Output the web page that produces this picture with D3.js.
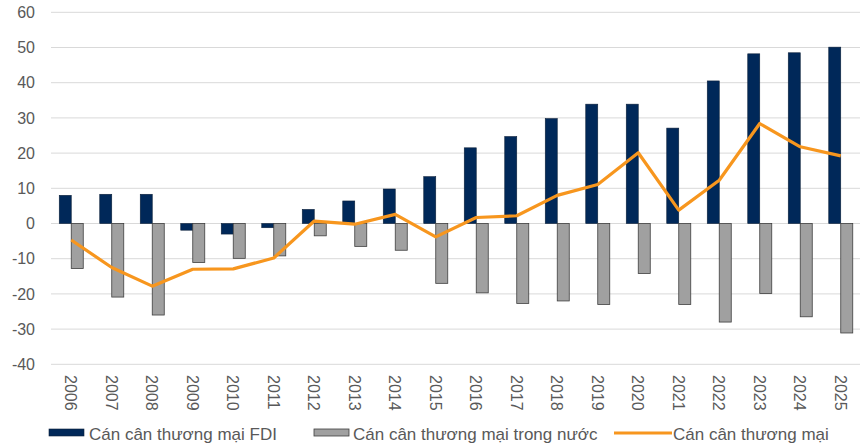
<!DOCTYPE html>
<html>
<head>
<meta charset="utf-8">
<script src="https://cdn.jsdelivr.net/npm/d3@7"></script>
<style>
  body { margin: 0; background: #fff; }
  svg text { font-family: "Liberation Sans", Arial, sans-serif; fill: #595959; }
</style>
</head>
<body>
<div id="chart"></div>
<script>
const years = ["2006","2007","2008","2009","2010","2011","2012","2013","2014","2015",
  "2016","2017","2018","2019","2020","2021","2022","2023","2024","2025"];
const fdi = [8.0, 8.3, 8.3, -1.9, -3.0, -1.2, 4.0, 6.4, 9.8, 13.3,
  21.5, 24.7, 29.8, 33.9, 33.9, 27.1, 40.5, 48.2, 48.5, 50.1];
const domestic = [-12.8, -20.9, -26.0, -11.1, -9.9, -9.2, -3.5, -6.5, -7.6, -17.0,
  -19.7, -22.7, -22.0, -23.0, -14.2, -23.0, -28.0, -19.9, -26.5, -31.1];
const total = [-4.7, -12.5, -17.8, -13.0, -12.9, -9.8, 0.7, -0.2, 2.6, -3.8,
  1.7, 2.2, 8.0, 11.1, 20.1, 3.8, 12.3, 28.4, 21.8, 19.2];
const yTicks = [-40, -30, -20, -10, 0, 10, 20, 30, 40, 50, 60];
const legendLabels = ["Cán cân thương mại FDI", "Cán cân thương mại trong nước", "Cán cân thương mại"];

const width = 867, height = 446;
const plotLeft = 51, plotRight = 861, plotTop = 12.3, plotBottom = 364.3;

const svg = d3.select("#chart").append("svg")
  .attr("width", width).attr("height", height);

const x = d3.scaleBand().domain(years).range([plotLeft, plotRight]);
const y = d3.scaleLinear().domain([-40, 60]).range([plotBottom, plotTop]);
const barW = 12;

// grid
svg.append("g").selectAll("line").data(yTicks).enter().append("line")
  .attr("x1", plotLeft).attr("x2", plotRight - 1)
  .attr("y1", d => y(d)).attr("y2", d => y(d))
  .attr("stroke", "#d9d9d9").attr("stroke-width", 1);

// y axis labels (plain hyphen for negatives, like the original)
const yAxis = d3.axisLeft(y).tickValues(yTicks).tickSize(0).tickPadding(16)
  .tickFormat(d => String(d));
const ya = svg.append("g").attr("transform", "translate(" + plotLeft + ",0)").call(yAxis);
ya.select(".domain").remove();
ya.selectAll("text").attr("font-size", 16).style("fill", "#595959")
  .attr("font-family", "Liberation Sans, Arial, sans-serif");

// bars
svg.append("g").selectAll("rect").data(fdi).enter().append("rect")
  .attr("x", (d, i) => x(years[i]) + x.bandwidth() / 2 - barW)
  .attr("y", d => Math.min(y(d), y(0)))
  .attr("width", barW)
  .attr("height", d => Math.abs(y(d) - y(0)))
  .attr("fill", "#002859").attr("stroke", "#0b1f3a").attr("stroke-width", 0.6);

svg.append("g").selectAll("rect").data(domestic).enter().append("rect")
  .attr("x", (d, i) => x(years[i]) + x.bandwidth() / 2)
  .attr("y", d => Math.min(y(d), y(0)))
  .attr("width", barW)
  .attr("height", d => Math.abs(y(d) - y(0)))
  .attr("fill", "#a0a0a0").attr("stroke", "#3f3f3f").attr("stroke-width", 0.8);

// line
const line = d3.line()
  .x((d, i) => x(years[i]) + x.bandwidth() / 2)
  .y(d => y(d));
svg.append("path").datum(total)
  .attr("d", line)
  .attr("fill", "none").attr("stroke", "#f7961e").attr("stroke-width", 3.2)
  .attr("stroke-linejoin", "round");

// x labels
svg.append("g").selectAll("text").data(years).enter().append("text")
  .attr("transform", d => "translate(" + (x(d) + x.bandwidth() / 2 - 0.5) + ",375) rotate(90)")
  .attr("font-size", 16)
  .attr("dominant-baseline", "central")
  .text(d => d);

// legend
const lg = svg.append("g");
lg.append("rect").attr("x", 49).attr("y", 429).attr("width", 35).attr("height", 7)
  .attr("fill", "#002859").attr("stroke", "#0b1f3a").attr("stroke-width", 0.6);
lg.append("text").attr("x", 89).attr("y", 439.5).attr("font-size", 17).text(legendLabels[0]);
lg.append("rect").attr("x", 314).attr("y", 429).attr("width", 35).attr("height", 7)
  .attr("fill", "#a0a0a0").attr("stroke", "#3f3f3f").attr("stroke-width", 0.8);
lg.append("text").attr("x", 353).attr("y", 439.5).attr("font-size", 17).text(legendLabels[1]);
lg.append("line").attr("x1", 614).attr("x2", 672).attr("y1", 433).attr("y2", 433)
  .attr("stroke", "#f7961e").attr("stroke-width", 3.2);
lg.append("text").attr("x", 673).attr("y", 439.5).attr("font-size", 17).text(legendLabels[2]);
</script>
</body>
</html>
